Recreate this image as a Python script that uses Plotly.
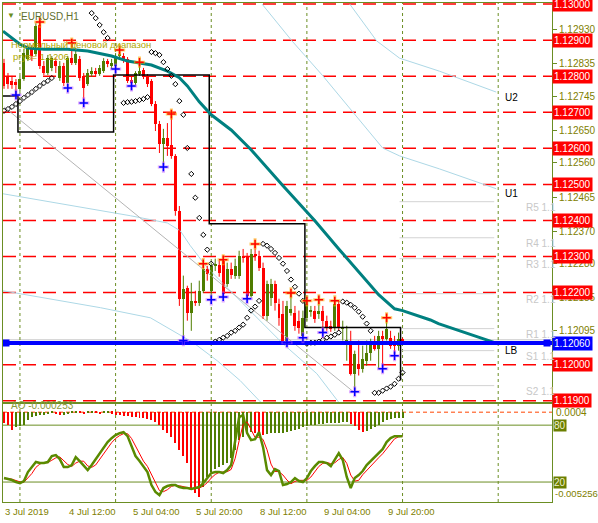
import plotly.graph_objects as go

# ---------------- data ----------------
bar_idx = list(range(-4, 97))          # H1 bars, 0 = 4 Jul 00:00
opens = [1.12837,1.12801,1.12787,1.12784,1.12765,1.12792,1.12848,1.12878,1.12862,1.12942,
         1.12828,1.12809,1.12823,1.12842,1.12795,1.12828,1.12781,1.12850,1.12837,1.12848,
         1.12801,1.12778,1.12806,1.12814,1.12806,1.12814,1.12842,1.12828,1.12828,1.12856,
         1.12856,1.12848,1.12789,1.12781,1.12806,1.12817,1.12801,1.12787,1.12723,1.12668,
         1.12612,1.12629,1.12609,1.12579,1.12427,1.12183,1.12213,1.12144,1.12177,1.12172,
         1.12205,1.12266,1.12205,1.12274,1.12277,1.12288,1.12224,1.12266,1.12247,1.12247,
         1.12302,1.12302,1.12191,1.12308,1.12302,1.12269,1.12136,1.12186,1.12224,1.12169,
         1.12141,1.12067,1.12144,1.12144,1.12122,1.12080,1.12130,1.12147,1.12150,1.12141,
         1.12150,1.12122,1.12108,1.12103,1.12169,1.12100,1.12064,1.12067,1.11975,1.12003,
         1.11989,1.12011,1.12033,1.12058,1.12044,1.12080,1.12072,1.12075,1.12067,1.12053,
         1.12072]
highs = [1.12848,1.12809,1.12801,1.12792,1.12801,1.12875,1.12886,1.12886,1.12947,1.12950,
         1.12842,1.12859,1.12856,1.12850,1.12842,1.12837,1.12856,1.12892,1.12878,1.12856,
         1.12809,1.12820,1.12825,1.12823,1.12831,1.12850,1.12848,1.12848,1.12864,1.12873,
         1.12864,1.12853,1.12798,1.12814,1.12839,1.12823,1.12806,1.12792,1.12731,1.12676,
         1.12654,1.12670,1.12695,1.12584,1.12440,1.12247,1.12219,1.12227,1.12205,1.12233,
         1.12280,1.12274,1.12283,1.12294,1.12288,1.12291,1.12283,1.12283,1.12294,1.12316,
         1.12321,1.12310,1.12321,1.12335,1.12316,1.12283,1.12233,1.12238,1.12233,1.12183,
         1.12177,1.12177,1.12199,1.12163,1.12150,1.12150,1.12177,1.12163,1.12163,1.12180,
         1.12163,1.12136,1.12122,1.12177,1.12177,1.12122,1.12108,1.12094,1.12039,1.12067,
         1.12053,1.12067,1.12072,1.12080,1.12094,1.12094,1.12130,1.12094,1.12080,1.12089,
         1.12075]
lows = [1.12765,1.12765,1.12765,1.12748,1.12759,1.12787,1.12842,1.12842,1.12856,1.12820,
        1.12803,1.12803,1.12814,1.12809,1.12787,1.12773,1.12767,1.12831,1.12831,1.12787,
        1.12726,1.12773,1.12798,1.12798,1.12801,1.12809,1.12825,1.12820,1.12820,1.12850,
        1.12837,1.12781,1.12773,1.12776,1.12801,1.12792,1.12770,1.12717,1.12648,1.12587,
        1.12548,1.12579,1.12571,1.12413,1.12163,1.12067,1.12122,1.12094,1.12163,1.12163,
        1.12199,1.12233,1.12180,1.12260,1.12244,1.12188,1.12216,1.12238,1.12238,1.12238,
        1.12283,1.12183,1.12186,1.12288,1.12260,1.12127,1.12122,1.12163,1.12150,1.12108,
        1.12061,1.12061,1.12136,1.12094,1.12086,1.12075,1.12122,1.12133,1.12116,1.12127,
        1.12089,1.12094,1.12091,1.12094,1.12094,1.12067,1.12011,1.11970,1.11925,1.11970,
        1.11978,1.11997,1.12011,1.12039,1.11989,1.11989,1.12067,1.12044,1.12025,1.12039,
        1.12058]
closes = [1.12773,1.12778,1.12776,1.12776,1.12792,1.12864,1.12878,1.12856,1.12939,1.12828,
          1.12809,1.12850,1.12850,1.12828,1.12828,1.12781,1.12850,1.12837,1.12862,1.12795,
          1.12767,1.12809,1.12814,1.12806,1.12823,1.12842,1.12834,1.12837,1.12856,1.12862,
          1.12842,1.12787,1.12781,1.12809,1.12814,1.12798,1.12778,1.12723,1.12668,1.12612,
          1.12629,1.12607,1.12579,1.12427,1.12183,1.12211,1.12144,1.12177,1.12172,1.12205,
          1.12266,1.12252,1.12274,1.12280,1.12255,1.12197,1.12266,1.12249,1.12274,1.12302,
          1.12296,1.12191,1.12308,1.12302,1.12269,1.12136,1.12224,1.12224,1.12172,1.12130,
          1.12067,1.12163,1.12155,1.12108,1.12103,1.12130,1.12169,1.12150,1.12127,1.12150,
          1.12122,1.12103,1.12100,1.12169,1.12103,1.12105,1.12069,1.11975,1.12031,1.11989,
          1.12017,1.12033,1.12058,1.12044,1.12080,1.12072,1.12100,1.12053,1.12053,1.12072,
          1.12061]

fractal_up_idx = [5, 13, 25, 30, 38, 46, 51, 59, 68, 72, 75, 79, 92]
fractal_dn_idx = [-1, 12, 16, 24, 28, 36, 41, 48, 51, 57, 67, 71, 76, 84, 91, 94]

sar_idx = list(range(-4, 9)) + list(range(18, 23)) + list(range(26, 97))
sar_val = [1.12704,1.12709,1.12715,1.12723,1.12731,1.12740,1.12748,1.12756,1.12765,1.12773,1.12781,1.12787,1.12795,
           1.12975,1.12961,1.12942,1.12922,1.12906,
           1.12726,1.12728,1.12729,1.12731,1.12734,1.12737,1.12742,
           1.12867,1.12864,1.12859,1.12839,1.12820,1.12801,1.12778,1.12731,1.12693,1.12601,1.12529,1.12463,1.12407,1.12360,1.12319,1.12280,
           1.12064,1.12069,1.12075,1.12080,1.12089,1.12094,1.12103,1.12111,1.12130,1.12150,1.12161,1.12177,
           1.12335,1.12330,1.12321,1.12310,1.12296,1.12280,1.12260,1.12236,1.12216,1.12197,1.12177,
           1.12058,1.12061,1.12061,1.12064,1.12069,1.12075,1.12078,1.12083,1.12089,
           1.12175,1.12172,1.12166,1.12158,1.12147,1.12133,1.12114,1.12094,
           1.11922,1.11922,1.11928,1.11934,1.11939,1.11947,1.11961,1.11978]

ma_idx = [-4.25,-2,0,2,6,12,17,23,27,33,37,40,42,45,48,53,58,66,74,80,90,94,96,103,105,119.5]
ma_val = [1.12925,1.12906,1.12889,1.12878,1.12875,1.12875,1.12870,1.12856,1.12842,1.12831,
          1.12814,1.12796,1.12773,1.12729,1.12693,1.12651,1.12596,1.12496,1.12399,1.12321,
          1.12194,1.12155,1.12150,1.12124,1.12114,1.12060]

range_step_idx = [-4.25, -0.5, 23.5, 47.5, 71.5, 95.5]
range_step_val = [1.12745, 1.12645, 1.12803, 1.12391, 1.12103, 1.11956]

u2_idx = [82.75, 89.5, 95.25, 105.25, 119.5]
u2_val = [1.13000, 1.12898, 1.12850, 1.12814, 1.12756]
u1_idx = [60.75, 68.25, 76, 82.75, 91, 95.25, 105.25, 119.5]
u1_val = [1.13000, 1.12898, 1.12801, 1.12712, 1.12601, 1.12579, 1.12543, 1.12488]
l1_idx = [-4.25, 20.25, 27.75, 37, 40.25, 42.75, 47, 56, 66, 74.5, 80.25]
l1_val = [1.12474, 1.12427, 1.12413, 1.12393, 1.12371, 1.12330, 1.12269, 1.12169, 1.12058, 1.11975, 1.11892]
l2_idx = [-4.25, 20.25, 32.75, 39.5, 43.5, 49.5, 55.25, 60.75]
l2_val = [1.12205, 1.12158, 1.12130, 1.12086, 1.12061, 1.12011, 1.11956, 1.11892]
trend_idx = [-4, 84]
trend_val = [1.12715, 1.11922]

level_lines = [1.130, 1.129, 1.128, 1.127, 1.126, 1.125, 1.124, 1.123, 1.122, 1.120, 1.119]
lb_level = 1.12060
axis_ticks = [1.12930, 1.12835, 1.12745, 1.12650, 1.12560, 1.12465, 1.12370, 1.12280, 1.12185, 1.12095]
pivot_names = ["R5 1.1", "R4 1.1", "R3 1.1", "R2 1.1", "R1 1.1", "S1 1.1", "S2 1.1"]
pivot_levels = [1.12452, 1.12352, 1.12294, 1.12197, 1.12100, 1.12039, 1.11942]
band_labels = ["U2", "U1", "LB"]
band_label_levels = [1.12740, 1.12474, 1.12039]

ao = [-0.00077,-0.00091,-0.00126,-0.00105,-0.00098,-0.00091,-0.00056,-0.00035,-0.00028,-0.00021,
      -0.00021,-0.00014,-0.00010,-0.00014,-0.00021,-0.00018,-0.00014,-0.00010,-0.00007,-0.00010,
      -0.00014,-0.00010,-0.00007,-0.00010,-0.00014,-0.00010,-0.00007,-0.00011,-0.00018,-0.00021,
      -0.00025,-0.00028,-0.00032,-0.00035,-0.00039,-0.00042,-0.00049,-0.00056,-0.00070,-0.00091,
      -0.00126,-0.00147,-0.00175,-0.00217,-0.00266,-0.00308,-0.00357,-0.00532,-0.00567,-0.00595,
      -0.00525,-0.00455,-0.00420,-0.00399,-0.00385,-0.00371,-0.00357,-0.00322,-0.00266,-0.00196,
      -0.00175,-0.00147,-0.00140,-0.00150,-0.00158,-0.00161,-0.00154,-0.00150,-0.00147,-0.00144,
      -0.00144,-0.00140,-0.00133,-0.00126,-0.00119,-0.00105,-0.00098,-0.00091,-0.00088,-0.00084,
      -0.00081,-0.00077,-0.00077,-0.00074,-0.00074,-0.00070,-0.00070,-0.00084,-0.00098,-0.00126,
      -0.00140,-0.00133,-0.00119,-0.00105,-0.00091,-0.00070,-0.00056,-0.00049,-0.00042,-0.00042,
      -0.00042]
stoch_main = [24.2,23.2,22.1,20.0,18.9,21.1,30.5,35.8,41.1,40.0,
              40.0,41.1,47.4,48.4,44.2,35.8,35.8,37.9,46.3,42.1,
              36.8,32.6,37.9,44.2,50.5,55.8,62.1,66.3,69.5,71.6,
              72.6,68.4,56.8,47.4,42.1,36.8,30.5,16.8,9.5,6.3,
              13.7,15.8,16.8,16.8,14.7,13.7,13.7,12.6,13.7,14.7,
              18.9,24.2,29.5,30.5,30.5,29.5,32.6,37.9,64.2,88.4,
              90.5,71.6,64.2,65.3,72.6,56.8,32.6,27.4,33.7,31.6,
              16.8,17.9,20.0,24.2,21.1,20.0,24.2,31.6,36.8,41.1,
              41.1,40.0,36.8,44.2,50.5,43.2,25.3,13.7,24.2,27.4,
              31.6,37.9,42.1,45.3,49.5,54.7,62.1,66.3,68.4,68.4,
              68.4]
stoch_signal = [23.5,23.8,23.0,21.5,20.2,19.8,24.0,29.0,35.5,39.0,
                40.5,40.5,43.0,45.5,46.5,42.5,38.5,36.5,40.0,42.0,
                42.0,37.0,35.5,38.0,44.0,50.0,56.0,61.5,66.0,69.0,
                71.0,71.0,66.0,57.5,48.8,42.0,36.5,28.0,19.0,11.0,
                9.8,11.9,15.4,16.5,16.1,15.1,14.0,13.3,13.3,13.7,
                15.8,19.3,24.2,28.0,30.2,30.2,30.9,33.3,44.9,63.5,
                81.0,83.5,75.4,67.0,67.4,64.9,54.0,38.9,31.2,30.9,
                27.4,22.1,18.2,20.7,21.8,21.8,21.8,25.3,30.9,36.5,
                39.7,40.7,39.3,40.3,43.8,46.0,39.7,27.4,21.0,21.8,
                27.7,32.3,37.2,41.8,45.6,49.8,55.4,61.0,65.6,67.7,
                68.2]
stoch_levels = [80, 20]

day_sep_idx = [0, 24, 48, 72, 96, 120]
time_tick_idx = [-4, 12, 28, 44, 60, 76, 92]
time_tick_text = ["3 Jul 2019", "4 Jul 12:00", "5 Jul 04:00", "5 Jul 20:00",
                  "8 Jul 12:00", "9 Jul 04:00", "9 Jul 20:00"]

# ---------------- styling ----------------
FONT = "Liberation Sans, Arial, sans-serif"
OLIVE = "#6B8E23"
TXT = "#808000"
GREEN = "#4F7D00"
RED = "#FF0000"
X_RANGE = [-4.25, 133.5]

fig = go.Figure()
n = len(bar_idx)
inc = [k for k in range(n) if closes[k] >= opens[k]]
dec = [k for k in range(n) if closes[k] < opens[k]]

# candle bodies
for ks, col in ((inc, GREEN), (dec, RED)):
    fig.add_trace(go.Bar(
        x=[bar_idx[k] for k in ks],
        base=[min(opens[k], closes[k]) for k in ks],
        y=[max(abs(closes[k] - opens[k]), 0.00003) for k in ks],
        width=0.75, marker=dict(color=col, line=dict(width=0)),
        xaxis="x", yaxis="y", showlegend=False, hoverinfo="skip"))

# AO histogram
ao_col = [GREEN if (k > 0 and ao[k] >= ao[k - 1]) else RED for k in range(n)]
fig.add_trace(go.Bar(x=bar_idx, y=ao, base=0, width=0.25,
                     marker=dict(color=ao_col, line=dict(width=0)),
                     xaxis="x2", yaxis="y2", showlegend=False, hoverinfo="skip"))

# light curves / trend line
for xs, ys, col in ((u2_idx, u2_val, "#ADD8E6"), (u1_idx, u1_val, "#ADD8E6"),
                    (l1_idx, l1_val, "#ADD8E6"), (l2_idx, l2_val, "#ADD8E6"),
                    (trend_idx, trend_val, "#B4B4B4")):
    fig.add_trace(go.Scatter(x=xs, y=ys, mode="lines", line=dict(color=col, width=1),
                             xaxis="x", yaxis="y", showlegend=False, hoverinfo="skip"))

# wicks
for ks, col in ((inc, GREEN), (dec, RED)):
    wx, wy = [], []
    for k in ks:
        wx += [bar_idx[k], bar_idx[k], None]
        wy += [lows[k], highs[k], None]
    fig.add_trace(go.Scatter(x=wx, y=wy, mode="lines", line=dict(color=col, width=1),
                             xaxis="x", yaxis="y", showlegend=False, hoverinfo="skip"))

# range step line
fig.add_trace(go.Scatter(x=range_step_idx, y=range_step_val, mode="lines",
                         line=dict(color="black", width=1.5, shape="hv"),
                         xaxis="x", yaxis="y", showlegend=False, hoverinfo="skip"))

# moving average
fig.add_trace(go.Scatter(x=ma_idx, y=ma_val, mode="lines",
                         line=dict(color="#008080", width=3),
                         xaxis="x", yaxis="y", showlegend=False, hoverinfo="skip"))

# SAR dots
fig.add_trace(go.Scatter(x=sar_idx, y=sar_val, mode="markers",
                         marker=dict(symbol="diamond-open", size=4, color="black", line=dict(width=1)),
                         xaxis="x", yaxis="y", showlegend=False, hoverinfo="skip"))

# LB line
fig.add_trace(go.Scatter(x=X_RANGE, y=[lb_level, lb_level], mode="lines",
                         line=dict(color="#0000FF", width=4),
                         xaxis="x", yaxis="y", showlegend=False, hoverinfo="skip"))
fig.add_trace(go.Scatter(x=[-3.5, 132.25], y=[lb_level, lb_level], mode="markers",
                         marker=dict(symbol="square", size=7, color="#0000FF"),
                         xaxis="x", yaxis="y", showlegend=False, hoverinfo="skip"))

# fractals
pos = {b: k for k, b in enumerate(bar_idx)}
fu_y = [highs[pos[i]] for i in fractal_up_idx]
fd_y = [lows[pos[i]] for i in fractal_dn_idx]
fig.add_trace(go.Scatter(x=fractal_up_idx, y=fu_y, mode="markers",
                         marker=dict(symbol="cross-thin", size=8, color="rgba(255,170,0,0.8)",
                                     line=dict(width=3, color="rgba(255,170,0,0.6)")),
                         xaxis="x", yaxis="y", showlegend=False, hoverinfo="skip"))
fig.add_trace(go.Scatter(x=fractal_up_idx, y=fu_y, mode="markers",
                         marker=dict(symbol="cross-thin", size=6, line=dict(width=1.5, color=RED)),
                         xaxis="x", yaxis="y", showlegend=False, hoverinfo="skip"))
fig.add_trace(go.Scatter(x=fractal_dn_idx, y=fd_y, mode="markers",
                         marker=dict(symbol="cross-thin", size=8, color="rgba(190,80,255,0.6)",
                                     line=dict(width=3, color="rgba(190,80,255,0.5)")),
                         xaxis="x", yaxis="y", showlegend=False, hoverinfo="skip"))
fig.add_trace(go.Scatter(x=fractal_dn_idx, y=fd_y, mode="markers",
                         marker=dict(symbol="cross-thin", size=6, line=dict(width=1.5, color="#0000FF")),
                         xaxis="x", yaxis="y", showlegend=False, hoverinfo="skip"))

# stochastic
fig.add_trace(go.Scatter(x=bar_idx, y=stoch_signal, mode="lines",
                         line=dict(color=RED, width=1),
                         xaxis="x2", yaxis="y3", showlegend=False, hoverinfo="skip"))
fig.add_trace(go.Scatter(x=bar_idx, y=stoch_main, mode="lines",
                         line=dict(color="#5A8A00", width=2.5),
                         xaxis="x2", yaxis="y3", showlegend=False, hoverinfo="skip"))

# ---------------- shapes ----------------
shapes = []
for lv in level_lines:
    shapes.append(dict(type="line", xref="paper", x0=0, x1=1, yref="y", y0=lv, y1=lv,
                       line=dict(color=RED, width=1.5, dash="13px,7px"), layer="below"))
shapes.append(dict(type="line", xref="paper", x0=0, x1=1, yref="y", y0=1.12069, y1=1.12069,
                   line=dict(color="#C8C8C8", width=1), layer="below"))
for lv in pivot_levels:
    shapes.append(dict(type="line", xref="x", x0=95.25, x1=119, yref="y", y0=lv, y1=lv,
                       line=dict(color="#D3D3D3", width=1), layer="below"))
for d in day_sep_idx:
    shapes.append(dict(type="line", xref="x", x0=d, x1=d, yref="paper", y0=0, y1=1,
                       line=dict(color=OLIVE, width=1, dash="3px,3px"), layer="below"))
shapes.append(dict(type="line", xref="paper", x0=0, x1=1, yref="y2", y0=0, y1=0,
                   line=dict(color="#FF4500", width=1, dash="4px,3px"), layer="below"))
for s in stoch_levels:
    shapes.append(dict(type="line", xref="paper", x0=0, x1=1, yref="y3", y0=s, y1=s,
                       line=dict(color=OLIVE, width=1), layer="below"))

# ---------------- annotations ----------------
ann = []
for lv in level_lines:
    ann.append(dict(x=1, xref="paper", xanchor="left", xshift=0, y=lv, yref="y",
                    text=f"{lv:.5f}", showarrow=False, bgcolor=RED, borderpad=1,
                    font=dict(family=FONT, size=10, color="white")))
ann.append(dict(x=1, xref="paper", xanchor="left", xshift=0, y=lb_level, yref="y",
                text=f"{lb_level:.5f}", showarrow=False, bgcolor="#0000FF", borderpad=1,
                font=dict(family=FONT, size=10, color="white")))
for name, lv in zip(pivot_names, pivot_levels):
    ann.append(dict(x=126.5, xref="x", xanchor="left", y=lv, yref="y", yshift=-6,
                    text=name, showarrow=False,
                    font=dict(family=FONT, size=10, color="#C8C8C8")))
for name, lv in zip(band_labels, band_label_levels):
    ann.append(dict(x=121.25, xref="x", xanchor="left", y=lv, yref="y",
                    text=name, showarrow=False,
                    font=dict(family=FONT, size=10, color="black")))
for i, t in zip(time_tick_idx, time_tick_text):
    ann.append(dict(x=i, xref="x2", xanchor="left", xshift=-1, y=0, yref="paper",
                    yanchor="top", yshift=-2, text=t, showarrow=False,
                    font=dict(family=FONT, size=9.5, color=TXT)))
ann.append(dict(x=1, xref="paper", xanchor="left", xshift=2, y=0, yref="y2",
                text="0.0004", showarrow=False, font=dict(family=FONT, size=10, color=TXT)))
for s in stoch_levels:
    ann.append(dict(x=1, xref="paper", xanchor="left", xshift=1, y=s, yref="y3",
                    text=str(s), showarrow=False, bgcolor="#6B7F00", borderpad=0,
                    font=dict(family=FONT, size=10, color="#F0F0D0")))
ann.append(dict(x=1, xref="paper", xanchor="left", xshift=1, y=8.4, yref="y3",
                text="-0.005256", showarrow=False, font=dict(family=FONT, size=9.5, color=TXT)))
ann.append(dict(x=0.011, xref="paper", xanchor="left", y=0.178, yref="paper",
                text="AO -0.000253", showarrow=False,
                font=dict(family=FONT, size=10, color="#8A9A3A")))
ann.append(dict(x=0.004, xref="paper", xanchor="left", y=0.988, yref="paper",
                text="▼", showarrow=False, font=dict(family=FONT, size=8, color=OLIVE)))
ann.append(dict(x=0.029, xref="paper", xanchor="left", y=0.988, yref="paper",
                text="EURUSD,H1", showarrow=False,
                font=dict(family=FONT, size=10, color="#5F6F2F")))
ann.append(dict(x=0.011, xref="paper", xanchor="left", y=0.932, yref="paper",
                text="Нормальный ценовой диапазон", showarrow=False,
                font=dict(family=FONT, size=9.5, color="#B0A800")))
ann.append(dict(x=0.0145, xref="paper", xanchor="left", y=0.908, yref="paper",
                text="ргув= 1.1206", showarrow=False,
                font=dict(family=FONT, size=9.5, color="#B0A800")))

fig.update_layout(
    width=598, height=523,
    margin=dict(l=2, r=45, t=2, b=21),
    paper_bgcolor="white", plot_bgcolor="white",
    barmode="overlay", bargap=0, showlegend=False,
    font=dict(family=FONT, size=10, color=TXT),
    shapes=shapes, annotations=ann,
    xaxis=dict(domain=[0, 1], range=X_RANGE, anchor="y", showticklabels=False,
               showgrid=False, zeroline=False, showline=True, mirror=True,
               linecolor=OLIVE, linewidth=1, ticks=""),
    xaxis2=dict(domain=[0, 1], range=X_RANGE, anchor="y2", matches="x",
                showticklabels=False, showgrid=False, zeroline=False,
                showline=True, mirror=True, linecolor=OLIVE, linewidth=1, ticks=""),
    yaxis=dict(domain=[0.2, 1], range=[1.11896, 1.13003], anchor="x", side="right",
               tickvals=axis_ticks, ticktext=[f"{v:.5f}" for v in axis_ticks],
               ticks="outside", ticklen=4, tickcolor=OLIVE,
               tickfont=dict(family=FONT, size=10, color=TXT),
               showgrid=False, zeroline=False, showline=True, mirror=True,
               linecolor=OLIVE, linewidth=1),
    yaxis2=dict(domain=[0, 0.196], range=[-0.0063, 0.00056], anchor="x2",
                showticklabels=False, showgrid=False, zeroline=False,
                showline=True, mirror=True, linecolor=OLIVE, linewidth=1, ticks=""),
    yaxis3=dict(overlaying="y2", anchor="x2", range=[-1.05, 102.1], side="right",
                showticklabels=False, showgrid=False, zeroline=False, showline=False,
                ticks=""),
)

fig.write_html("out.html", config={"displayModeBar": False},
               post_script="document.body.style.margin='0px';document.body.style.overflow='hidden';")
